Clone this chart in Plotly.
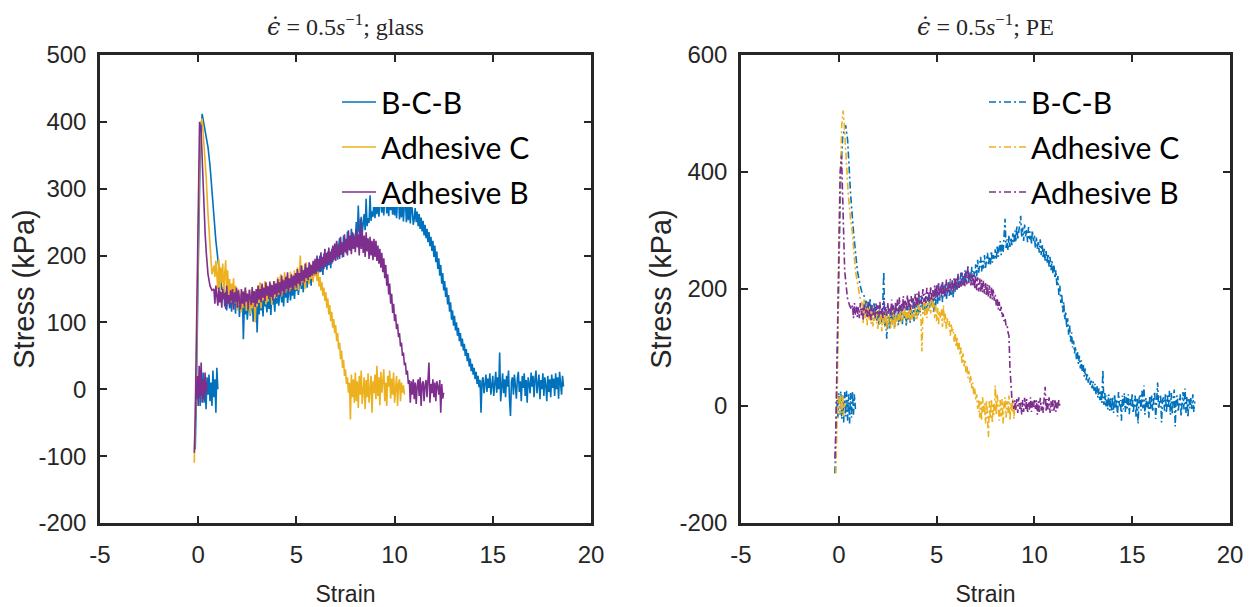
import numpy as np
import plotly.graph_objects as go

# colours (MATLAB default order)
BLUE = '#0072BD'
YELLOW = '#EDB120'
PURPLE = '#7E2F8E'

series_names = ['B-C-B', 'Adhesive C', 'Adhesive B']

# ---------------- glass : values ----------------
# small noisy cluster near zero strain (read every 0.05 strain)
glass_bcb_blob_start = -0.1
glass_bcb_blob = [-5, 10, -15, 20, -25, 15, -10, 25, -20, 12, -30, 18, -8, 22, -18, 10,
                  -25, 28, -12, 15, -35, 32, 0]
# loading peak
glass_bcb_head_strain = [-0.15, -0.1, 0.0, 0.1, 0.2, 0.3, 0.4, 0.5, 0.6, 0.7, 0.8, 0.9, 1.0, 1.1, 1.2]
glass_bcb_head_stress = [-90, -20, 180, 350, 412, 395, 378, 362, 335, 295, 255, 222, 195, 170, 150]
# noisy part, read every 0.05 strain from 1.3
glass_bcb_tail_start = 1.3
glass_bcb_tail = [152, 124, 146, 118, 139, 155, 121, 143, 116, 149, 127, 140, 113, 147,
                  123, 141, 108, 136, 119, 145, 75, 128, 112, 138, 104, 131, 142, 110, 126, 137, 101, 133, 118, 140,
                  85, 129, 112, 141, 118, 135, 109, 146, 124, 132, 115, 148, 120, 139, 111, 144, 127, 136, 116, 149,
                  128, 152, 125, 141, 157, 130, 148, 124, 155, 137, 160, 129, 146, 158, 133, 151, 140, 163, 135, 156,
                  147, 170, 141, 162, 176, 150, 168, 145, 179, 158, 172, 152, 181, 160, 175, 155, 185, 164, 178, 170,
                  173, 195, 168, 188, 200, 176, 192, 171, 203, 183, 197, 179, 206, 186, 199, 181, 210, 190, 204, 196,
                  198, 220, 194, 214, 226, 201, 218, 197, 230, 208, 224, 203, 236, 212, 228, 207, 240, 219, 233, 225,
                  224, 250, 221, 275, 236, 229, 258, 233, 247, 262, 238, 285, 244, 256, 249, 290, 252, 266, 258, 280,
                  256, 284, 262, 290, 258, 279, 292, 264, 286, 260, 288, 294, 263, 282, 259, 291, 268, 285, 261, 287,
                  260, 286, 256, 283, 290, 254, 280, 257, 287, 251, 279, 284, 250, 276, 253, 281, 248, 274, 270, 246,
                  255, 271, 250, 266, 244, 262, 240, 257, 236, 252, 230, 246, 226, 240, 220, 235, 214, 228, 207, 222,
                  198, 215, 190, 206, 180, 196, 170, 186, 158, 174, 148, 162, 138, 152, 127, 141, 116, 130, 104, 118,
                  95, 110, 88, 100, 80, 92, 72, 84, 64, 76, 58, 68, 50, 60, 42, 54, 34, 46, 27, 38,
                  22, 32, 15, 26, 8, 20, 3, 14, -35, 12, 18, -6, 10, 22, -4, 16, 2, 24, -8, 12,
                  20, -10, 14, 26, -5, 18, 0, 55, -18, 10, 24, -6, 15, -12, 20, 4, 28, -15, -40, 12,
                  18, -8, 22, 5, -14, 16, 26, -4, 12, -18, 20, 2, 24, -10, 14, -20, 18, 8, -6, 25,
                  4, 20, -12, 16, 28, -6, 10, 22, -15, 14, 0, 24, -10, 18, 6, -18, 20, -4, 15, -12,
                  22, 2, 16, -10, 24, 0, 18, -14, 26, 6, -8, 20, 4]

glass_adhc_head_strain = [-0.2, -0.15, -0.1, 0.0, 0.1, 0.2, 0.3, 0.4, 0.5, 0.6, 0.7]
glass_adhc_head_stress = [-110, -60, 20, 220, 395, 405, 365, 320, 262, 210, 172]
glass_adhc_tail_start = 0.8
glass_adhc_tail = [185, 168, 192, 176,
                   150, 195, 140, 182, 160, 188, 135, 172, 193, 146, 178, 138, 165, 130, 158, 142, 166, 128, 155, 137,
                   118, 150, 126, 143, 115, 147, 122, 138, 152, 117, 144, 125, 136, 112, 149, 121, 140, 130, 100, 146,
                   124, 155, 129, 160, 121, 150, 133, 145, 162, 127, 156, 131, 148, 138, 158, 126, 152, 135, 161, 140,
                   137, 168, 142, 160, 172, 139, 165, 148, 175, 144, 170, 152, 163, 146, 176, 150, 168, 155, 178, 149,
                   152, 182, 148, 173, 200, 155, 185, 160, 176, 150, 190, 162, 180, 157, 188, 165, 178, 160, 186, 170,
                   178, 162, 176, 154, 168, 148, 160, 140, 152, 132, 145, 122, 136, 112, 126, 102, 116, 92, 105, 84,
                   96, 72, 84, 60, 70, 45, 58, 32, 44, 20, 30, 8, 18, -5, 10, -45, 22, -12, 15, -20,
                   25, -18, 12, -28, 20, -8, 28, -22, 6, 18, -30, 14, -12, 24, -20, 8, 20, -35, 12, -6,
                   22, -15, 35, -10, 18, -24, 26, -5, 14, 30, -18, 10, -25, 20, 4, 28, -14, 16, -8, 25,
                   -20, 12, 20, -25, 8, 15, -18, 10, -5, 6, -8]

glass_adhb_blob_start = -0.1
glass_adhb_blob = [-15, 20, -25, 35, -10, 40, -20, 15, -15, 25, -5, 10]
glass_adhb_head_strain = [-0.2, -0.15, -0.1, 0.0, 0.07, 0.15, 0.2, 0.27, 0.35, 0.41, 0.5, 0.6, 0.7]
glass_adhb_head_stress = [-95, -40, 60, 280, 400, 385, 345, 283, 235, 205, 172, 155, 148]
glass_adhb_tail_start = 0.8
glass_adhb_tail = [150, 128, 155, 132,
                   125, 152, 130, 146, 122, 150, 135, 144, 120, 155, 128, 141, 124, 148, 133, 150, 119, 145, 131, 152,
                   122, 148, 135, 120, 150, 128, 146, 124, 152, 131, 143, 121, 149, 136, 126, 153, 129, 147, 123, 150,
                   128, 155, 134, 150, 130, 158, 137, 152, 132, 160, 140, 154, 135, 161, 138, 156, 133, 162, 142, 158,
                   138, 165, 144, 160, 140, 170, 147, 163, 142, 168, 150, 175, 145, 166, 152, 172, 148, 170, 155, 174,
                   152, 180, 158, 174, 155, 185, 162, 178, 160, 188, 166, 182, 163, 190, 168, 186, 170, 192, 172, 195,
                   172, 200, 178, 195, 175, 205, 182, 198, 180, 210, 186, 204, 185, 212, 190, 206, 188, 215, 193, 218,
                   192, 222, 198, 215, 195, 228, 202, 220, 198, 232, 205, 225, 200, 238, 208, 230, 202, 235, 210, 228,
                   205, 240, 212, 232, 200, 255, 210, 238, 204, 230, 198, 235, 206, 226, 195, 228, 200, 222, 193, 225,
                   198, 222, 192, 215, 188, 210, 182, 204, 175, 196, 166, 186, 155, 172, 142, 158, 128, 143, 114, 128,
                   102, 112, 90, 98, 78, 84, 64, 70, 50, 55, 36, 40, 22, 28, 8, 14, -20, 12, -8, 15,
                   -15, 10, -22, 5, 15, -10, 18, -25, 8, 12, -18, 6, 14, -12, 10, 40, -20, 8, -6, 15,
                   -12, 10, -18, 12, 4, -8, 14, -35, 8, -14, -5]

# ---------------- PE : values ----------------
pe_bcb_blob_start = -0.1
pe_bcb_blob = [10, -20, 22, -15, 25, -22, 18, -28, 24, -18, 26, -25, 20, -30, 22, -20,
               25, -15, 20, -5]
pe_bcb_head_strain = [-0.2, -0.15, -0.1, 0.0, 0.1, 0.2, 0.3, 0.35, 0.45, 0.6, 0.75, 0.85, 0.95, 1.1, 1.2]
pe_bcb_head_stress = [-115, -60, 40, 250, 400, 460, 478, 480, 455, 364, 298, 262, 231, 205, 192]
# noisy part, read every 0.05 strain
pe_bcb_tail_start = 1.3
pe_bcb_tail = [188, 162, 182, 158, 176, 150, 185, 163, 172, 148, 178, 155, 168, 146,
               165, 138, 172, 150, 142, 176, 230, 135, 160, 115, 152, 168, 130, 158, 172, 140, 163, 132, 170, 145,
               160, 138, 172, 145, 166, 140, 175, 150, 162, 136, 170, 148, 176, 142, 168, 152, 178, 145, 172, 155,
               180, 155, 186, 160, 175, 190, 158, 183, 165, 188, 162, 178, 192, 166, 185, 170, 190, 160, 195, 172,
               198, 175, 205, 180, 192, 208, 178, 200, 185, 210, 182, 198, 212, 188, 205, 190, 215, 186, 208, 195,
               218, 198, 225, 202, 212, 230, 205, 222, 208, 232, 210, 226, 235, 212, 228, 215, 238, 214, 230, 220,
               242, 222, 250, 228, 238, 255, 230, 248, 235, 258, 236, 252, 262, 240, 255, 242, 265, 245, 258, 250,
               268, 250, 275, 255, 265, 282, 258, 276, 262, 288, 320, 270, 285, 266, 292, 272, 288, 275, 295, 278,
               300, 280, 308, 284, 295, 312, 325, 288, 305, 282, 310, 290, 302, 280, 306, 285, 298, 276, 300, 282,
               292, 270, 288, 268, 282, 262, 285, 258, 276, 252, 270, 248, 265, 244, 260, 238, 255, 232, 248, 226,
               240, 218, 232, 205, 222, 190, 206, 176, 192, 160, 178, 148, 162, 134, 150, 122, 138, 110, 126, 100,
               112, 90, 102, 80, 94, 72, 86, 64, 78, 58, 70, 50, 64, 44, 56, 40, 50, 36, 46, 30,
               42, 26, 38, 20, 34, 14, 30, 10, 26, 5, 62, 2, 22, -2, 18, -6, 20, -8, 14, -10,
               16, -12, 20, -5, 12, -18, 24, 0, 10, -25, 18, -6, 22, -10, 15, -4, 20, -14, 12, -2,
               22, -12, 8, 18, -20, 15, -30, 12, 20, -8, 26, -4, 35, -15, 14, -2, 10, -20, 18, -6,
               18, -10, 12, 25, -22, 8, 40, -5, 14, 20, -28, 10, 15, -8, 22, -12, 18, -4, 26, -15,
               22, -15, 10, 28, -35, 14, 18, -10, 6, 20, -18, 12, 24, -6, 30, -12, 16, -20, 12, -4,
               15, -5, 20, -10, 8]

pe_adhc_blob_start = 0.0
pe_adhc_blob = [15, -15, 20, -12, 18, -18, 5]
pe_adhc_head_strain = [-0.15, -0.1, -0.05, 0.05, 0.15, 0.22, 0.28, 0.36, 0.48, 0.6, 0.69, 0.85, 1.0, 1.1]
pe_adhc_head_stress = [-115, -40, 100, 350, 480, 505, 480, 430, 364, 320, 298, 231, 200, 182]
pe_adhc_tail_start = 1.2
pe_adhc_tail = [175, 142, 182, 150, 168, 138, 178, 146, 165, 140, 172, 136, 160, 145, 168, 138,
                132, 165, 140, 158, 128, 162, 145, 135, 160, 130, 155, 142, 163, 133, 150, 138, 165, 131, 158, 140,
                138, 165, 145, 160, 140, 168, 148, 155, 170, 142, 162, 150, 166, 145, 172, 148, 160, 152, 170, 146,
                150, 175, 158, 170, 152, 93, 160, 178, 155, 182, 150, 176, 162, 185, 158, 192, 165, 178, 150, 172,
                145, 168, 140, 162, 150, 165, 135, 172, 142, 158, 130, 150, 138, 145, 120, 140, 128, 132, 110, 125,
                100, 118, 95, 108, 86, 100, 72, 90, 68, 80, 58, 70, 48, 60, 40, 52, 30, 40, 18, 30,
                10, 20, -5, 12, -20, 8, -25, 15, -10, 5, -30, 10, -18, -53, 8, -22, 12, -30, 5, -15,
                35, -15, 20, -8, -25, 10, -18, 12, -30, 6, 15, -20, 8, -12, 18, -25, 5, -10, 12, -22,
                5]

pe_adhb_head_strain = [-0.2, -0.15, -0.1, -0.05, 0.0, 0.07, 0.14, 0.2, 0.24, 0.3, 0.44, 0.55, 0.65]
pe_adhb_head_stress = [-90, -40, 60, 180, 300, 400, 428, 364, 298, 231, 185, 172, 165]
pe_adhb_tail_start = 0.7
pe_adhb_tail = [172, 150, 176, 155, 170, 152,
                170, 150, 176, 155, 168, 148, 174, 158, 165, 150, 178, 153, 168, 147, 172, 156, 166, 150, 175, 158,
                172, 152, 178, 155, 166, 150, 180, 158, 170, 154, 176, 160, 168, 152, 182, 157, 172, 155, 178, 160,
                182, 158, 186, 162, 176, 160, 188, 165, 180, 162, 190, 168, 182, 164, 188, 170, 184, 166, 192, 170,
                192, 172, 196, 175, 188, 174, 200, 178, 192, 176, 202, 180, 195, 178, 205, 182, 198, 180, 206, 184,
                208, 185, 212, 188, 204, 186, 214, 190, 208, 188, 216, 194, 210, 192, 218, 196, 212, 194, 220, 198,
                220, 200, 226, 202, 216, 204, 228, 206, 222, 205, 230, 208, 241, 210, 225, 206, 228, 204, 224, 200,
                222, 198, 220, 196, 218, 195, 216, 194, 214, 192, 210, 188, 208, 186, 206, 184, 204, 182, 200, 180,
                190, 172, 185, 165, 178, 160, 170, 152, 158, 145, 150, 138, 140, 126, 120, 66, 26, 12, 7, -5,
                10, -8, 12, -12, 15, -5, 8, -15, 10, -10, 14, -6, 12, -12, 6, -8, 15, -10, 8, -4,
                12, -5, 10, -15, 8, -10, 14, -8, 6, -12, 15, 33, -10, 12, -6, 15, -12, 8, -8, 10,
                -8, 12, -10, 6, -5, 10, 0]

x_ticks = [-5, 0, 5, 10, 15, 20]
glass_y_ticks = [-200, -100, 0, 100, 200, 300, 400, 500]
pe_y_ticks = [-200, 0, 200, 400, 600]

TAIL_STEP = 0.05


def grid(start, values, step=TAIL_STEP):
    # strain at which each value was read
    return list(np.round(start + step * np.arange(len(values)), 3))


def curve(head_x, head_y, tail_start, tail, blob_start=None, blob=None):
    xs, ys = [], []
    if blob is not None:
        xs += grid(blob_start, blob) + [None]
        ys += list(blob) + [None]
    xs += list(head_x) + grid(tail_start, tail)
    ys += list(head_y) + list(tail)
    return xs, ys


def labels(ticks):
    # MATLAB style labels with a plain hyphen
    return [str(t) for t in ticks]


fig = go.Figure()

glass = [
    curve(glass_bcb_head_strain, glass_bcb_head_stress, glass_bcb_tail_start, glass_bcb_tail,
          glass_bcb_blob_start, glass_bcb_blob),
    curve(glass_adhc_head_strain, glass_adhc_head_stress, glass_adhc_tail_start, glass_adhc_tail),
    curve(glass_adhb_head_strain, glass_adhb_head_stress, glass_adhb_tail_start, glass_adhb_tail,
          glass_adhb_blob_start, glass_adhb_blob),
]
pe = [
    curve(pe_bcb_head_strain, pe_bcb_head_stress, pe_bcb_tail_start, pe_bcb_tail,
          pe_bcb_blob_start, pe_bcb_blob),
    curve(pe_adhc_head_strain, pe_adhc_head_stress, pe_adhc_tail_start, pe_adhc_tail,
          pe_adhc_blob_start, pe_adhc_blob),
    curve(pe_adhb_head_strain, pe_adhb_head_stress, pe_adhb_tail_start, pe_adhb_tail),
]
colors = [BLUE, YELLOW, PURPLE]

for i, (xs, ys) in enumerate(glass):
    fig.add_trace(go.Scatter(x=xs, y=ys, mode='lines', name=series_names[i],
                             line=dict(color=colors[i], width=1.6),
                             xaxis='x', yaxis='y', legend='legend',
                             legendgroup='g%d' % i))
for i, (xs, ys) in enumerate(pe):
    fig.add_trace(go.Scatter(x=xs, y=ys, mode='lines', name=series_names[i],
                             line=dict(color=colors[i], width=1.6, dash='7px,3px,2px,3px'),
                             xaxis='x2', yaxis='y2', legend='legend2',
                             legendgroup='p%d' % i))

axis_common = dict(showline=True, linewidth=2.5, linecolor='#262626', mirror='ticks',
                   ticks='inside', ticklen=7, tickwidth=2, tickcolor='#262626',
                   showgrid=False, zeroline=False, automargin=False,
                   tickfont=dict(family='Liberation Sans', size=24, color='#262626'))
xtitle = dict(text='Strain', standoff=22,
              font=dict(family='Liberation Sans', size=23, color='#262626'))
ytitle = dict(text='Stress (kPa)', standoff=0,
              font=dict(family='Liberation Sans', size=29, color='#262626'))

# the page body adds an 8px margin on each side, so the visible figure is 1236 px wide
# plot area spans 92..1222 px of the figure (page 100..1230)
AREA_W = 1130
left_dom = [0, 491 / AREA_W]
right_dom = [641 / AREA_W, 1]


def px(page_x):
    # page pixel -> paper fraction
    return (page_x - 100) / AREA_W


def py(page_y):
    return (523 - page_y) / 468


fig.update_layout(
    width=1236, height=599,
    margin=dict(l=92, r=14, t=47, b=84, autoexpand=False),
    paper_bgcolor='white', plot_bgcolor='white',
    xaxis=dict(domain=left_dom, range=[-5, 20], tickvals=x_ticks, ticktext=labels(x_ticks),
               anchor='y', ticklabelstandoff=8, title=xtitle, **axis_common),
    yaxis=dict(domain=[0, 1], range=[-200, 500], tickvals=glass_y_ticks,
               ticktext=labels(glass_y_ticks), anchor='x', ticklabelstandoff=6,
               title=ytitle, **axis_common),
    xaxis2=dict(domain=right_dom, range=[-5, 20], tickvals=x_ticks, ticktext=labels(x_ticks),
                anchor='y2', ticklabelstandoff=8, title=xtitle, **axis_common),
    yaxis2=dict(domain=[0, 1], range=[-200, 600], tickvals=pe_y_ticks,
                ticktext=labels(pe_y_ticks), anchor='x2', ticklabelstandoff=6,
                title=ytitle, **axis_common),
    legend=dict(x=px(337), y=py(76), xanchor='left', yanchor='top',
                bgcolor='rgba(0,0,0,0)', traceorder='grouped', tracegroupgap=3, itemwidth=34,
                font=dict(family='Lato', size=30, color='black')),
    legend2=dict(x=px(984), y=py(76), xanchor='left', yanchor='top',
                 bgcolor='rgba(0,0,0,0)', traceorder='grouped', tracegroupgap=3, itemwidth=37,
                 font=dict(family='Lato', size=30, color='black')),
    showlegend=True,
)

# white text box of the left legend that hides the top of the blue curve
fig.add_shape(type='rect', xref='paper', yref='paper',
              x0=px(372), x1=px(575), y0=py(207), y1=py(66),
              fillcolor='white', line=dict(width=0), layer='above')

title_font = dict(family='Liberation Serif', size=24, color='#262626')
eps_dot = "<span style=\"font-family:'DejaVu Serif'\"><i>\u03f5\u0307</i></span>"
for dom, tail in [(left_dom, 'glass'), (right_dom, 'PE')]:
    fig.add_annotation(text=eps_dot + ' = 0.5<i>s</i><sup>\u22121</sup>; ' + tail,
                       xref='paper', yref='paper', x=sum(dom) / 2, y=py(25),
                       xanchor='center', yanchor='middle',
                       showarrow=False, font=title_font)

fig.write_html("out.html")
